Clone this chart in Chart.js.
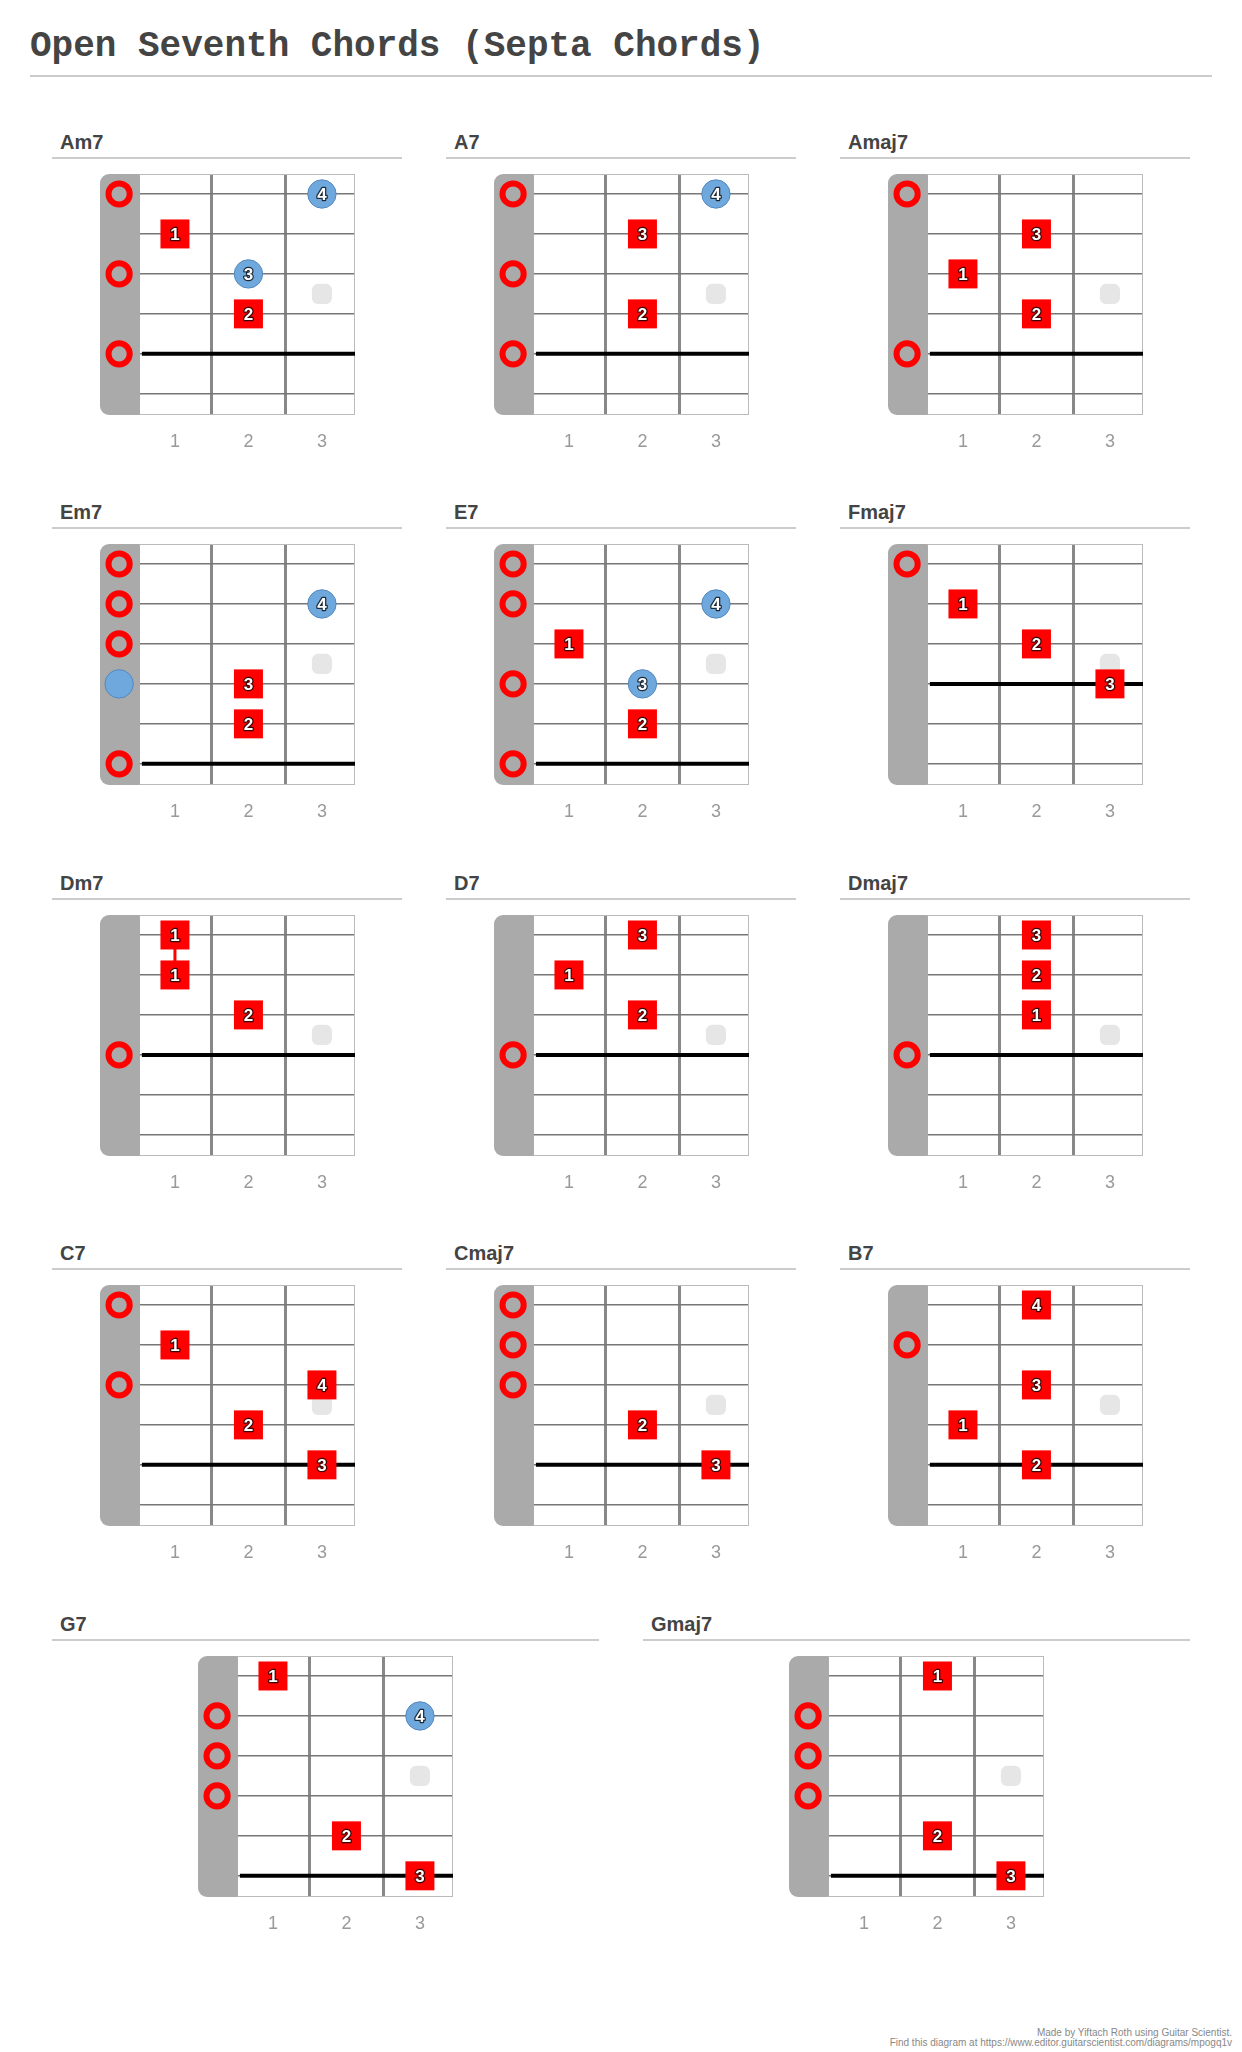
<!DOCTYPE html>
<html>
<head>
<meta charset="utf-8">
<script src="https://cdn.jsdelivr.net/npm/chart.js@4.4.1/dist/chart.umd.min.js"></script>
<style>
  html, body { margin: 0; padding: 0; background: #fff; }
  #page { position: relative; width: 1242px; height: 2052px; overflow: hidden; }
  #title {
    position: absolute; left: 30px; top: 29px; width: 1182px;
    font: bold 36px "Liberation Mono", monospace; line-height: 36px; color: #444;
    padding-bottom: 10px; border-bottom: 2px solid #ccc; white-space: nowrap;
  }
  .head {
    position: absolute; font: bold 20px "Liberation Sans", Arial, sans-serif; line-height: 20px;
    color: #444; padding-left: 8px; padding-bottom: 5px; border-bottom: 2px solid #ccc; box-sizing: border-box;
  }
  canvas.diag { position: absolute; }
  #foot {
    position: absolute; right: 10px; top: 2028px; text-align: right;
    font: 10px "Liberation Sans", Arial, sans-serif; line-height: 10px; color: #888;
  }
</style>
</head>
<body>
<div id="page">
  <div id="title">Open Seventh Chords (Septa Chords)</div>
  <div id="foot">Made by Yiftach Roth using Guitar Scientist.<br>Find this diagram at https://www.editor.guitarscientist.com/diagrams/mpogq1v</div>
</div>
<script>
// chord data: fingers are [fret, string, finger number]
const chordNames = ['Am7', 'A7', 'Amaj7', 'Em7', 'E7', 'Fmaj7', 'Dm7', 'D7', 'Dmaj7', 'C7', 'Cmaj7', 'B7', 'G7', 'Gmaj7'];
const openStrings = [[1, 3, 5], [1, 3, 5], [1, 5], [1, 2, 3, 6], [1, 2, 4, 6], [1], [4], [4], [4], [1, 3], [1, 2, 3], [2], [2, 3, 4], [2, 3, 4]];
const redFingers = [
  [[1, 2, 1], [2, 4, 2]],
  [[2, 2, 3], [2, 4, 2]],
  [[2, 2, 3], [1, 3, 1], [2, 4, 2]],
  [[2, 4, 3], [2, 5, 2]],
  [[1, 3, 1], [2, 5, 2]],
  [[1, 2, 1], [2, 3, 2], [3, 4, 3]],
  [[1, 1, 1], [1, 2, 1], [2, 3, 2]],
  [[2, 1, 3], [1, 2, 1], [2, 3, 2]],
  [[2, 1, 3], [2, 2, 2], [2, 3, 1]],
  [[1, 2, 1], [3, 3, 4], [2, 4, 2], [3, 5, 3]],
  [[2, 4, 2], [3, 5, 3]],
  [[2, 1, 4], [2, 3, 3], [1, 4, 1], [2, 5, 2]],
  [[1, 1, 1], [2, 5, 2], [3, 6, 3]],
  [[2, 1, 1], [2, 5, 2], [3, 6, 3]]
];
const blueFingers = [
  [[3, 1, 4], [2, 3, 3]],
  [[3, 1, 4]],
  [],
  [[0, 4, ''], [3, 2, 4]],
  [[3, 2, 4], [2, 4, 3]],
  [], [], [], [], [], [], [],
  [[3, 2, 4]],
  []
];
const rootStrings = [5, 5, 5, 6, 6, 4, 4, 4, 4, 5, 5, 5, 6, 6];
// barre connectors: [fret, from string, to string]
const barres = [[], [], [], [], [], [], [[1, 1, 2]], [], [], [], [], [], [], []];
const inlays = [[3, 3.5]];
const fretLabels = ['1', '2', '3'];
const stringNumbers = [1, 2, 3, 4, 5, 6];

const OPEN_X = 0.24;
const PAD = 10, DW = 255, DH = 241, AXIS_H = 45;
const RED = '#ff0000', BLUE = '#6fa8dc';

Chart.defaults.font.family = '"Liberation Sans", Arial, sans-serif';

const page = document.getElementById('page');

function fx(f) { return f === 0 ? OPEN_X : f; }

const boardPlugin = {
  id: 'board',
  beforeDatasetsDraw(chart) {
    const { ctx, chartArea: a, scales: { x } } = chart;
    const nutEnd = x.getPixelForValue(0.5) + 1;
    ctx.save();
    ctx.strokeStyle = '#bbb';
    ctx.lineWidth = 1;
    ctx.strokeRect(nutEnd, a.top + 0.5, a.right - nutEnd - 0.5, a.bottom - a.top - 1);
    ctx.fillStyle = '#aaa';
    ctx.beginPath();
    ctx.roundRect(a.left, a.top, nutEnd - a.left, a.bottom - a.top, [9, 0, 0, 9]);
    ctx.fill();
    ctx.restore();
  },
  afterDatasetsDraw(chart) {
    const ctx = chart.ctx;
    ctx.save();
    ctx.font = 'bold 17px "Liberation Sans", Arial, sans-serif';
    ctx.textAlign = 'center';
    ctx.textBaseline = 'middle';
    ctx.lineJoin = 'round';
    chart.data.datasets.forEach((ds, i) => {
      if (!ds.fingerLabels) return;
      chart.getDatasetMeta(i).data.forEach((pt, j) => {
        const t = String(ds.fingerLabels[j]);
        if (!t) return;
        ctx.strokeStyle = 'rgba(0,0,0,0.75)';
        ctx.lineWidth = 2.5;
        ctx.strokeText(t, pt.x, pt.y + 1);
        ctx.fillStyle = '#fff';
        ctx.fillText(t, pt.x, pt.y + 1);
      });
    });
    ctx.restore();
  }
};

function addHead(text, left, top, width) {
  const d = document.createElement('div');
  d.className = 'head';
  d.textContent = text;
  d.style.left = left + 'px';
  d.style.top = top + 'px';
  d.style.width = width + 'px';
  page.appendChild(d);
}

function drawChord(i, secLeft, secWidth, rowTop) {
  addHead(chordNames[i], secLeft, rowTop - 42, secWidth);
  const diagLeft = secLeft + secWidth / 2 - DW / 2;
  const cv = document.createElement('canvas');
  cv.className = 'diag';
  cv.width = DW + 2 * PAD;
  cv.height = DH + PAD + AXIS_H;
  cv.style.left = (diagLeft - PAD) + 'px';
  cv.style.top = (rowTop - PAD) + 'px';
  page.appendChild(cv);

  const reds = redFingers[i], blues = blueFingers[i];
  const datasets = [
    {
      data: reds.map(f => ({ x: fx(f[0]), y: f[1] })),
      fingerLabels: reds.map(f => f[2]),
      pointStyle: 'rect', pointRadius: 20.5, backgroundColor: RED, borderWidth: 0, order: 1
    },
    {
      data: blues.map(f => ({ x: fx(f[0]), y: f[1] })),
      fingerLabels: blues.map(f => f[2]),
      pointStyle: 'circle', pointRadius: 14.2, backgroundColor: BLUE, borderColor: '#5489bf', borderWidth: 1, order: 2
    },
    {
      data: openStrings[i].map(s => ({ x: OPEN_X, y: s })),
      pointStyle: 'circle', pointRadius: 10.6, backgroundColor: 'rgba(0,0,0,0)', borderColor: RED, borderWidth: 6, order: 3
    },
    {
      data: [{ x: 0.55, y: rootStrings[i] }, { x: 3.45, y: rootStrings[i] }],
      showLine: true, borderColor: '#000', borderWidth: 4, pointRadius: 0, order: 5
    },
    {
      data: inlays.map(m => ({ x: m[0], y: m[1] })),
      pointStyle: 'rectRounded', pointRadius: 11.7, backgroundColor: '#e6e6e6', borderWidth: 0, order: 6
    }
  ];
  barres[i].forEach(b => {
    datasets.push({
      data: [{ x: b[0], y: b[1] }, { x: b[0], y: b[2] }],
      showLine: true, borderColor: RED, borderWidth: 3, pointRadius: 0, order: 4
    });
  });

  new Chart(cv, {
    type: 'scatter',
    data: { datasets },
    options: {
      responsive: false,
      animation: false,
      events: [],
      layout: { autoPadding: false, padding: { left: PAD, right: PAD, top: PAD, bottom: 0 } },
      plugins: { legend: { display: false }, tooltip: { enabled: false } },
      elements: { point: { hoverRadius: 0 } },
      datasets: { scatter: { clip: false } },
      scales: {
        x: {
          type: 'linear', min: -0.02, max: 3.45,
          afterBuildTicks: s => { s.ticks = fretLabels.map((_, k) => ({ value: k + 1 })); },
          afterFit: s => { s.height = AXIS_H; },
          grid: { offset: true, color: '#888', lineWidth: 3, drawTicks: false },
          border: { display: false },
          ticks: { color: '#999', font: { size: 18 }, padding: 16, maxRotation: 0, autoSkip: false,
                   callback: v => fretLabels[v - 1] }
        },
        y: {
          type: 'linear', reverse: true, min: 0.5, max: 6.53,
          afterBuildTicks: s => { s.ticks = stringNumbers.map(v => ({ value: v })); },
          afterFit: s => { s.width = 0; },
          grid: { color: '#777', lineWidth: 1.5, drawTicks: false },
          border: { display: false },
          ticks: { display: false }
        }
      }
    },
    plugins: [boardPlugin]
  });
}

const ROW_STEP = 370.4;
const colLefts = [52, 446, 840];
for (let i = 0; i < 12; i++) {
  const r = Math.floor(i / 3), c = i % 3;
  drawChord(i, colLefts[c], 350, 174 + r * ROW_STEP);
}
drawChord(12, 52, 547, 174 + 4 * ROW_STEP);
drawChord(13, 643, 547, 174 + 4 * ROW_STEP);
</script>
</body>
</html>
